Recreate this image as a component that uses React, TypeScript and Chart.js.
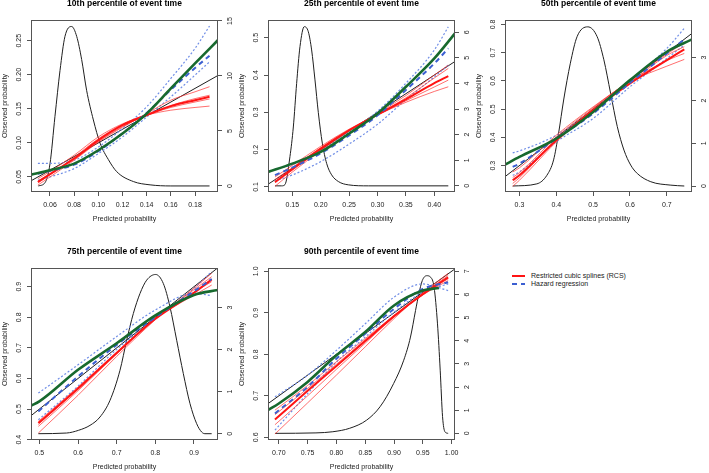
import React, { useEffect, useRef } from 'react';
import { Chart, registerables } from 'chart.js';

Chart.register(...registerables);

const FONT = '"Liberation Sans", Arial, Helvetica, sans-serif';
const AXIS = '#555555';
const TEXT = '#222222';
const RED = '#ff1414';
const RED_THIN = 'rgba(255, 50, 50, 0.7)';
const BLUE = '#3b5fd1';
const BLUE_DOT = '#6f8de6';
const GREEN = '#17692e';
const BLACK = '#1f1f1f';

// ---------- 10th percentile ----------
const p10_title = '10th percentile of event time';
const p10_xRange = [0.0443, 0.199];
const p10_yRange = [0.0279, 0.2804];
const p10_y2Range = [-0.55, 15.09];
const p10_xTicks = [0.06, 0.08, 0.1, 0.12, 0.14, 0.16, 0.18];
const p10_yTicks = [0.05, 0.1, 0.15, 0.2, 0.25];
const p10_y2Ticks = [0, 5, 10, 15];
const p10_lineX = [0.05, 0.06, 0.08, 0.1, 0.12, 0.14, 0.16, 0.18, 0.192];
const p10_rcs = [0.0426, 0.054, 0.077, 0.104, 0.126, 0.1407, 0.154, 0.1627, 0.1676];
const p10_rcsA = [0.038, 0.05, 0.0745, 0.101, 0.123, 0.143, 0.1627, 0.175, 0.1825];
const p10_rcsB = [0.0475, 0.058, 0.0819, 0.1088, 0.128, 0.1407, 0.148, 0.152, 0.154];
const p10_rcsC = [0.041, 0.053, 0.079, 0.106, 0.127, 0.142, 0.155, 0.165, 0.17];
const p10_rcsD = [0.044, 0.055, 0.076, 0.102, 0.124, 0.1405, 0.152, 0.16, 0.1645];
const p10_hazard = [0.0545, 0.059, 0.068, 0.088, 0.114, 0.144, 0.178, 0.21, 0.228];
const p10_hazardHi = [0.07, 0.07, 0.0745, 0.094, 0.121, 0.153, 0.1946, 0.2387, 0.2716];
const p10_hazardLo = [0.045, 0.05, 0.0623, 0.0843, 0.1088, 0.138, 0.1676, 0.1995, 0.219];
const p10_greenX = [0.0443, 0.06, 0.08, 0.1, 0.12, 0.14, 0.16, 0.18, 0.199];
const p10_green = [0.0534, 0.0598, 0.0696, 0.0892, 0.1137, 0.143, 0.18, 0.2167, 0.251];
const p10_densX = [0.0503, 0.0559, 0.06, 0.0641, 0.0683, 0.0724, 0.0779, 0.0821, 0.0862, 0.0903, 0.0959, 0.1014, 0.1083, 0.1152, 0.129, 0.1428, 0.16, 0.192];
const p10_dens = [0, 0.3, 2.0, 6.3, 10.5, 13.6, 14.5, 13.6, 11.5, 8.7, 6.0, 3.9, 2.4, 1.3, 0.4, 0.1, 0, 0];

// ---------- 25th percentile ----------
const p25_title = '25th percentile of event time';
const p25_xRange = [0.1072, 0.4364];
const p25_yRange = [0.0866, 0.5474];
const p25_y2Range = [-0.24, 6.48];
const p25_xTicks = [0.15, 0.2, 0.25, 0.3, 0.35, 0.4];
const p25_yTicks = [0.1, 0.2, 0.3, 0.4, 0.5];
const p25_y2Ticks = [0, 1, 2, 3, 4, 5, 6];
const p25_lineX = [0.1195, 0.15, 0.2, 0.25, 0.3, 0.35, 0.4, 0.4246];
const p25_rcs = [0.1134, 0.148, 0.203, 0.252, 0.294, 0.335, 0.378, 0.397];
const p25_rcsA = [0.1018, 0.14, 0.197, 0.25, 0.297, 0.345, 0.4, 0.4266];
const p25_rcsB = [0.1268, 0.158, 0.209, 0.255, 0.293, 0.327, 0.356, 0.3685];
const p25_rcsC = [0.111, 0.145, 0.2, 0.251, 0.295, 0.339, 0.392, 0.4177];
const p25_rcsD = [0.12, 0.152, 0.205, 0.253, 0.293, 0.331, 0.368, 0.3864];
const p25_hazard = [0.132, 0.152, 0.19, 0.238, 0.292, 0.36, 0.431, 0.4714];
const p25_hazardHi = [0.148, 0.16, 0.198, 0.247, 0.303, 0.378, 0.467, 0.529];
const p25_hazardLo = [0.116, 0.132, 0.168, 0.215, 0.268, 0.334, 0.395, 0.4266];
const p25_greenX = [0.1072, 0.15, 0.2, 0.25, 0.3, 0.35, 0.4, 0.4364];
const p25_green = [0.1403, 0.1626, 0.194, 0.2432, 0.2969, 0.3685, 0.4445, 0.5116];
const p25_densX = [0.1195, 0.1312, 0.1371, 0.1459, 0.1518, 0.1576, 0.1635, 0.1711, 0.1782, 0.184, 0.1899, 0.1958, 0.2028, 0.2104, 0.2192, 0.231, 0.2486, 0.2838, 0.4246];
const p25_dens = [0, 0, 0.05, 1.15, 2.3, 4.0, 5.44, 6.22, 6.02, 5.31, 4.14, 2.86, 1.67, 0.88, 0.43, 0.17, 0.04, 0, 0];

// ---------- 50th percentile ----------
const p50_title = '50th percentile of event time';
const p50_xRange = [0.2609, 0.7682];
const p50_yRange = [0.2066, 0.8154];
const p50_y2Range = [-0.14, 3.88];
const p50_xTicks = [0.3, 0.4, 0.5, 0.6, 0.7];
const p50_yTicks = [0.3, 0.4, 0.5, 0.6, 0.7, 0.8];
const p50_y2Ticks = [0, 1, 2, 3];
const p50_lineX = [0.2818, 0.3, 0.4, 0.5, 0.6, 0.7, 0.7473];
const p50_rcs = [0.248, 0.2657, 0.39, 0.4962, 0.5908, 0.6735, 0.7113];
const p50_rcsA = [0.2267, 0.248, 0.3839, 0.502, 0.6026, 0.695, 0.735];
const p50_rcsB = [0.2775, 0.292, 0.4076, 0.508, 0.5967, 0.652, 0.6759];
const p50_rcsC = [0.258, 0.275, 0.4, 0.505, 0.599, 0.672, 0.697];
const p50_rcsD = [0.237, 0.257, 0.39, 0.498, 0.594, 0.69, 0.7208];
const p50_hazard = [0.2953, 0.307, 0.3957, 0.4844, 0.5931, 0.697, 0.7468];
const p50_hazardHi = [0.3449, 0.352, 0.4076, 0.496, 0.6026, 0.715, 0.7858];
const p50_hazardLo = [0.2657, 0.2775, 0.3839, 0.4667, 0.579, 0.6794, 0.7267];
const p50_greenX = [0.2609, 0.3, 0.4, 0.5, 0.6, 0.7, 0.7682];
const p50_green = [0.3035, 0.3307, 0.3957, 0.49, 0.6026, 0.703, 0.7468];
const p50_densX = [0.2818, 0.3473, 0.3745, 0.3927, 0.4064, 0.42, 0.4382, 0.4564, 0.4855, 0.5109, 0.5291, 0.5473, 0.5655, 0.5836, 0.6018, 0.62, 0.6564, 0.7109, 0.7473];
const p50_dens = [0, 0.05, 0.25, 0.61, 1.24, 2.01, 2.87, 3.49, 3.72, 3.49, 2.95, 2.17, 1.39, 0.84, 0.49, 0.29, 0.1, 0.02, 0];

// ---------- 75th percentile ----------
const p75_title = '75th percentile of event time';
const p75_xRange = [0.4784, 0.9621];
const p75_yRange = [0.399, 0.961];
const p75_y2Range = [-0.15, 3.94];
const p75_xTicks = [0.5, 0.6, 0.7, 0.8, 0.9];
const p75_yTicks = [0.4, 0.5, 0.6, 0.7, 0.8, 0.9];
const p75_y2Ticks = [0, 1, 2, 3];
const p75_lineX = [0.4974, 0.6, 0.7, 0.8, 0.9, 0.9457];
const p75_rcs = [0.4543, 0.567, 0.683, 0.795, 0.88, 0.9239];
const p75_rcsA = [0.4217, 0.545, 0.672, 0.792, 0.895, 0.9435];
const p75_rcsB = [0.4598, 0.572, 0.686, 0.797, 0.872, 0.9054];
const p75_rcsC = [0.4435, 0.56, 0.68, 0.795, 0.89, 0.9326];
const p75_rcsD = [0.45, 0.565, 0.682, 0.796, 0.882, 0.9163];
const p75_hazard = [0.4924, 0.6065, 0.7098, 0.8, 0.885, 0.925];
const p75_hazardHi = [0.5522, 0.6446, 0.737, 0.8239, 0.8783, 0.8707];
const p75_hazardLo = [0.4652, 0.575, 0.695, 0.795, 0.895, 0.949];
const p75_greenX = [0.4784, 0.5, 0.6, 0.7, 0.8, 0.9, 0.9621];
const p75_green = [0.5109, 0.525, 0.6283, 0.715, 0.806, 0.8728, 0.8891];
const p75_densX = [0.4974, 0.5707, 0.6009, 0.631, 0.6569, 0.6828, 0.7086, 0.7259, 0.7431, 0.7603, 0.7776, 0.8009, 0.8207, 0.8379, 0.8552, 0.8724, 0.8897, 0.9069, 0.9198, 0.9284, 0.9457];
const p75_dens = [0, 0.016, 0.079, 0.198, 0.397, 0.794, 1.508, 2.222, 2.857, 3.333, 3.651, 3.786, 3.571, 3.016, 2.222, 1.429, 0.714, 0.238, 0.04, 0, 0];

// ---------- 90th percentile ----------
const p90_title = '90th percentile of event time';
const p90_xRange = [0.6812, 1.0059];
const p90_yRange = [0.5936, 1.008];
const p90_y2Range = [-0.287, 7.143];
const p90_xTicks = [0.7, 0.75, 0.8, 0.85, 0.9, 0.95, 1.0];
const p90_yTicks = [0.6, 0.7, 0.8, 0.9, 1.0];
const p90_y2Ticks = [0, 1, 2, 3, 4, 5, 6, 7];
const p90_lineX = [0.6933, 0.75, 0.8, 0.85, 0.9, 0.95, 0.994];
const p90_rcs = [0.6432, 0.712, 0.772, 0.832, 0.892, 0.945, 0.9856];
const p90_rcsA = [0.608, 0.683, 0.75, 0.818, 0.886, 0.948, 0.9952];
const p90_rcsB = [0.6656, 0.725, 0.782, 0.838, 0.893, 0.943, 0.9776];
const p90_rcsC = [0.6304, 0.7, 0.764, 0.827, 0.89, 0.946, 0.99];
const p90_rcsD = [0.6544, 0.718, 0.776, 0.835, 0.892, 0.944, 0.982];
const p90_hazard = [0.6576, 0.7216, 0.7896, 0.8496, 0.9096, 0.9576, 0.9736];
const p90_hazardHi = [0.6976, 0.7496, 0.8096, 0.8736, 0.9376, 0.9696, 0.9536];
const p90_hazardLo = [0.6176, 0.7056, 0.7816, 0.8416, 0.9016, 0.9496, 0.9696];
const p90_greenX = [0.6812, 0.7, 0.75, 0.8, 0.85, 0.9, 0.95, 0.978];
const p90_green = [0.6656, 0.6816, 0.7336, 0.7976, 0.8536, 0.9176, 0.9536, 0.96];
const p90_densX = [0.6933, 0.7645, 0.7938, 0.8231, 0.8524, 0.8758, 0.8993, 0.9169, 0.9286, 0.9374, 0.9432, 0.9491, 0.9567, 0.9638, 0.9696, 0.9755, 0.9802, 0.9843, 0.9884, 0.994];
const p90_dens = [0, 0.02, 0.07, 0.22, 0.57, 1.15, 2.15, 3.16, 4.16, 5.31, 6.03, 6.6, 6.81, 6.74, 6.31, 4.73, 2.73, 0.72, 0.07, 0];

const legendLabels = ['Restricted cubic splines (RCS)', 'Hazard regression'];
const xAxisTitle = 'Predicted probability';
const yAxisTitle = 'Observed probability';

const PANELS = [
  { title: p10_title, xRange: p10_xRange, yRange: p10_yRange, y2Range: p10_y2Range, xTicks: p10_xTicks, yTicks: p10_yTicks, y2Ticks: p10_y2Ticks, xDec: 2, yDec: 2, lineX: p10_lineX, rcs: p10_rcs, rcsThin: [p10_rcsA, p10_rcsB, p10_rcsC, p10_rcsD], hazard: p10_hazard, hazardHi: p10_hazardHi, hazardLo: p10_hazardLo, greenX: p10_greenX, green: p10_green, densX: p10_densX, dens: p10_dens },
  { title: p25_title, xRange: p25_xRange, yRange: p25_yRange, y2Range: p25_y2Range, xTicks: p25_xTicks, yTicks: p25_yTicks, y2Ticks: p25_y2Ticks, xDec: 2, yDec: 1, lineX: p25_lineX, rcs: p25_rcs, rcsThin: [p25_rcsA, p25_rcsB, p25_rcsC, p25_rcsD], hazard: p25_hazard, hazardHi: p25_hazardHi, hazardLo: p25_hazardLo, greenX: p25_greenX, green: p25_green, densX: p25_densX, dens: p25_dens },
  { title: p50_title, xRange: p50_xRange, yRange: p50_yRange, y2Range: p50_y2Range, xTicks: p50_xTicks, yTicks: p50_yTicks, y2Ticks: p50_y2Ticks, xDec: 1, yDec: 1, lineX: p50_lineX, rcs: p50_rcs, rcsThin: [p50_rcsA, p50_rcsB, p50_rcsC, p50_rcsD], hazard: p50_hazard, hazardHi: p50_hazardHi, hazardLo: p50_hazardLo, greenX: p50_greenX, green: p50_green, densX: p50_densX, dens: p50_dens },
  { title: p75_title, xRange: p75_xRange, yRange: p75_yRange, y2Range: p75_y2Range, xTicks: p75_xTicks, yTicks: p75_yTicks, y2Ticks: p75_y2Ticks, xDec: 1, yDec: 1, lineX: p75_lineX, rcs: p75_rcs, rcsThin: [p75_rcsA, p75_rcsB, p75_rcsC, p75_rcsD], hazard: p75_hazard, hazardHi: p75_hazardHi, hazardLo: p75_hazardLo, greenX: p75_greenX, green: p75_green, densX: p75_densX, dens: p75_dens },
  { title: p90_title, xRange: p90_xRange, yRange: p90_yRange, y2Range: p90_y2Range, xTicks: p90_xTicks, yTicks: p90_yTicks, y2Ticks: p90_y2Ticks, xDec: 2, yDec: 1, lineX: p90_lineX, rcs: p90_rcs, rcsThin: [p90_rcsA, p90_rcsB, p90_rcsC, p90_rcsD], hazard: p90_hazard, hazardHi: p90_hazardHi, hazardLo: p90_hazardLo, greenX: p90_greenX, green: p90_green, densX: p90_densX, dens: p90_dens },
];

const CANVAS_W = 249;
const CANVAS_H = 236;
const POS = [
  { left: 0, top: -11 },
  { left: 237, top: -11 },
  { left: 474, top: -11 },
  { left: 0, top: 237 },
  { left: 237, top: 237 },
];

const framePlugin = {
  id: 'frame',
  afterDatasetsDraw(chart: any) {
    const { ctx, chartArea: a } = chart;
    ctx.save();
    ctx.strokeStyle = AXIS;
    ctx.lineWidth = 1;
    const l = Math.round(a.left) + 0.5;
    const t = Math.round(a.top) + 0.5;
    const r = Math.round(a.right) - 0.5;
    const b = Math.round(a.bottom) - 0.5;
    ctx.strokeRect(l, t, r - l, b - t);
    ctx.restore();
  },
};

const pts = (xs: number[], ys: number[]) => xs.map((x, i) => ({ x, y: ys[i] }));

function line(label: string, xs: number[], ys: number[], color: string, width: number, dash: number[], axis = 'y') {
  return {
    label,
    data: pts(xs, ys),
    borderColor: color,
    backgroundColor: color,
    borderWidth: width,
    borderDash: dash,
    yAxisID: axis,
    pointRadius: 0,
    fill: false,
    cubicInterpolationMode: 'monotone',
  };
}

function Panel({ cfg, pos }: { cfg: any; pos: { left: number; top: number } }) {
  const ref = useRef<HTMLCanvasElement | null>(null);
  useEffect(() => {
    const canvas = ref.current!;
    const mctx = document.createElement('canvas').getContext('2d')!;
    mctx.font = `7px ${FONT}`;
    const fmt = (v: number, d: number) => Number(v).toFixed(d);
    const widest = (vals: number[], d: number) => Math.max(...vals.map((v) => mctx.measureText(fmt(v, d)).width));
    const wL = widest(cfg.yTicks, cfg.yDec);
    const wR = widest(cfg.y2Ticks, 0);
    const tickFont = { family: FONT, size: 7 };
    const grid = { display: true, drawOnChartArea: false, drawTicks: true, tickLength: 4, color: AXIS, lineWidth: 1 };

    const datasets: any[] = [
      line('Green curve', cfg.greenX, cfg.green, GREEN, 2.6, []),
      line('Hazard regression', cfg.lineX, cfg.hazard, BLUE, 2, [5, 4]),
      line('Restricted cubic splines (RCS)', cfg.lineX, cfg.rcs, RED, 2, []),
      ...cfg.rcsThin.map((ys: number[], i: number) => line('RCS ' + (i + 1), cfg.lineX, ys, RED_THIN, 1, [])),
      line('Hazard upper', cfg.lineX, cfg.hazardHi, BLUE_DOT, 1.2, [2, 2]),
      line('Hazard lower', cfg.lineX, cfg.hazardLo, BLUE_DOT, 1.2, [2, 2]),
      line('Ideal', cfg.xRange, cfg.xRange, BLACK, 1, []),
      line('Density', cfg.densX, cfg.dens, BLACK, 1, [], 'y2'),
    ];

    const chart = new Chart(canvas, {
      type: 'line',
      data: { datasets },
      plugins: [framePlugin],
      options: {
        responsive: false,
        animation: false,
        devicePixelRatio: 1,
        layout: { padding: 0 },
        events: [],
        plugins: {
          legend: { display: false },
          tooltip: { enabled: false },
          title: {
            display: true,
            text: cfg.title,
            color: '#000',
            font: { family: FONT, size: 8.5, weight: 'bold' },
            padding: { top: 9.9, bottom: 10.9 },
          },
        },
        scales: {
          x: {
            type: 'linear',
            position: 'bottom',
            min: cfg.xRange[0],
            max: cfg.xRange[1],
            afterBuildTicks: (s: any) => { s.ticks = cfg.xTicks.map((v: number) => ({ value: v })); },
            afterFit: (s: any) => { s.height = 33; },
            ticks: { autoSkip: false, maxRotation: 0, minRotation: 0, padding: 4.4, font: tickFont, color: TEXT, callback: (v: any) => fmt(v, cfg.xDec) },
            grid,
            border: { display: false },
            title: { display: true, text: xAxisTitle, color: TEXT, font: tickFont, padding: { top: 0, bottom: 1.8 } },
          },
          y: {
            type: 'linear',
            position: 'left',
            min: cfg.yRange[0],
            max: cfg.yRange[1],
            afterBuildTicks: (s: any) => { s.ticks = cfg.yTicks.map((v: number) => ({ value: v })); },
            afterFit: (s: any) => { s.width = 31; },
            ticks: { autoSkip: false, minRotation: 90, maxRotation: 90, crossAlign: 'center', padding: 7.7 - wL / 2, font: tickFont, color: TEXT, callback: (v: any) => fmt(v, cfg.yDec) },
            grid,
            border: { display: false },
            title: { display: true, text: yAxisTitle, color: TEXT, font: tickFont, padding: { top: 1, bottom: 0 } },
          },
          y2: {
            type: 'linear',
            position: 'right',
            min: cfg.y2Range[0],
            max: cfg.y2Range[1],
            afterBuildTicks: (s: any) => { s.ticks = cfg.y2Ticks.map((v: number) => ({ value: v })); },
            afterFit: (s: any) => { s.width = 31; },
            ticks: { autoSkip: false, minRotation: 90, maxRotation: 90, crossAlign: 'center', padding: 7.7 - wR / 2, font: tickFont, color: TEXT, callback: (v: any) => fmt(v, 0) },
            grid,
            border: { display: false },
          },
        },
      } as any,
    });
    return () => chart.destroy();
  }, [cfg]);
  return (
    <canvas
      ref={ref}
      width={CANVAS_W}
      height={CANVAS_H}
      style={{ position: 'absolute', left: pos.left, top: pos.top, width: CANVAS_W, height: CANVAS_H }}
    />
  );
}

function Legend() {
  const row: React.CSSProperties = { display: 'flex', alignItems: 'center', height: 8, whiteSpace: 'nowrap' };
  return (
    <div style={{ position: 'absolute', left: 512, top: 272, font: `7px ${FONT}`, color: TEXT, lineHeight: '8px' }}>
      <div style={row}>
        <span style={{ display: 'inline-block', width: 13, height: 0, borderTop: `2px solid ${RED}`, marginRight: 6 }} />
        <span>{legendLabels[0]}</span>
      </div>
      <div style={row}>
        <span style={{ display: 'inline-block', width: 5, height: 0, borderTop: `2px solid ${BLUE}`, marginRight: 4 }} />
        <span style={{ display: 'inline-block', width: 4, height: 0, borderTop: `2px solid ${BLUE}`, marginRight: 6 }} />
        <span>{legendLabels[1]}</span>
      </div>
    </div>
  );
}

export default function App() {
  return (
    <div style={{ position: 'fixed', left: 0, top: 0, width: 709, height: 473, overflow: 'hidden', background: '#ffffff' }}>
      {PANELS.map((cfg, i) => (
        <Panel key={i} cfg={cfg} pos={POS[i]} />
      ))}
      <Legend />
    </div>
  );
}
